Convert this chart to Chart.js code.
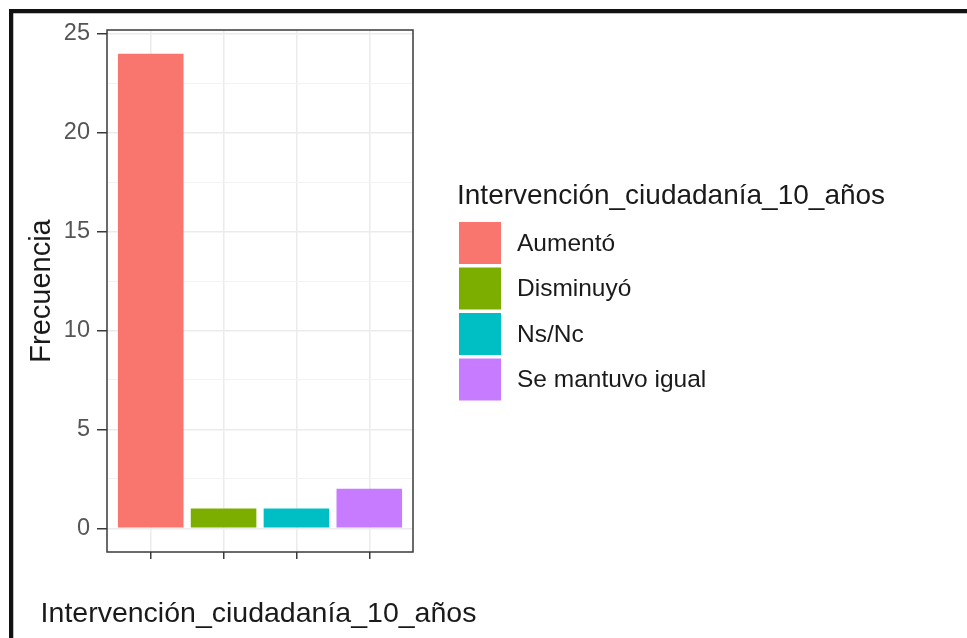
<!DOCTYPE html>
<html>
<head>
<meta charset="utf-8">
<script src="https://cdn.jsdelivr.net/npm/chart.js@4/dist/chart.umd.min.js"></script>
<style>
  html, body { margin: 0; padding: 0; background: #ffffff; }
  #wrap { position: relative; width: 967px; height: 638px; }
</style>
</head>
<body>
<div id="wrap"><canvas id="c" width="967" height="638"></canvas></div>
<script>
// Answer categories and their counts
const categories = ['Aumentó', 'Disminuyó', 'Ns/Nc', 'Se mantuvo igual'];
const frequencies = [24, 1, 1, 2];
const barColors = ['#F8766D', '#7CAE00', '#00BFC4', '#C77CFF'];
const yTickValues = [0, 5, 10, 15, 20, 25];
const variableName = 'Intervención_ciudadanía_10_años';
const yTitle = 'Frecuencia';

const FONT = '"Liberation Sans", Arial, sans-serif';

// Black frame around the figure (top and left edges)
const framePlugin = {
  id: 'frame',
  beforeDraw(chart) {
    const ctx = chart.ctx;
    ctx.save();
    ctx.fillStyle = '#ffffff';
    ctx.fillRect(0, 0, chart.width, chart.height);
    ctx.restore();
  },
  afterDraw(chart) {
    const ctx = chart.ctx;
    ctx.save();
    ctx.fillStyle = '#111111';
    ctx.fillRect(9, 9, chart.width - 9, 4);
    ctx.fillRect(9, 9, 4, chart.height - 9);
    ctx.fillStyle = 'rgba(0,0,0,0.25)';
    ctx.fillRect(13, 13, chart.width - 13, 1);
    ctx.fillRect(13, 13, 1, chart.height - 13);
    ctx.restore();
  }
};

// Panel border drawn over the bars, plus the x-axis title (wider than the panel)
const panelBorderPlugin = {
  id: 'panelBorder',
  afterDatasetsDraw(chart) {
    const { ctx, chartArea: a } = chart;
    ctx.save();
    ctx.strokeStyle = '#3a3a3a';
    ctx.lineWidth = 1.5;
    ctx.strokeRect(a.left, a.top, a.right - a.left, a.bottom - a.top);
    ctx.fillStyle = '#1a1a1a';
    ctx.font = '28.5px ' + FONT;
    ctx.textAlign = 'center';
    ctx.textBaseline = 'alphabetic';
    ctx.fillText(variableName, (a.left + a.right) / 2 - 1.5, 622);
    ctx.restore();
  }
};

// Fill legend on the right: title, colour keys and labels
const fillLegendPlugin = {
  id: 'fillLegend',
  afterDraw(chart) {
    const ctx = chart.ctx;
    const x0 = 458;
    ctx.save();
    ctx.fillStyle = '#1a1a1a';
    ctx.font = '28px ' + FONT;
    ctx.textBaseline = 'alphabetic';
    ctx.textAlign = 'left';
    ctx.fillText(variableName, x0 - 1, 204);
    const keySize = 42;
    const step = 45.5;
    const top0 = 222;
    ctx.font = '24.5px ' + FONT;
    ctx.textBaseline = 'middle';
    categories.forEach((name, i) => {
      const y = top0 + i * step;
      ctx.fillStyle = barColors[i];
      ctx.fillRect(x0 + 1, y, keySize, keySize);
      ctx.fillStyle = '#1a1a1a';
      ctx.fillText(name, 517, y + keySize / 2 + 1);
    });
    ctx.restore();
  }
};

const isMajor = v => yTickValues.includes(v);

new Chart(document.getElementById('c'), {
  type: 'bar',
  data: {
    datasets: [{
      label: variableName,
      data: frequencies.map((v, i) => ({ x: i + 1, y: v })),
      backgroundColor: barColors,
      borderWidth: 0,
      barPercentage: 0.9,
      categoryPercentage: 1.0
    }]
  },
  options: {
    responsive: false,
    animation: false,
    devicePixelRatio: 1,
    layout: { padding: { top: 30, right: 554, left: 0, bottom: 0 } },
    plugins: {
      legend: { display: false },
      tooltip: { enabled: false }
    },
    scales: {
      x: {
        type: 'linear',
        min: 0.4,
        max: 4.6,
        offset: false,
        afterBuildTicks(scale) {
          scale.ticks = categories.map((_, i) => ({ value: i + 1 }));
        },
        afterFit(scale) { scale.height = 86; },
        ticks: { callback: () => '', autoSkip: false, padding: 0 },
        grid: {
          offset: false,
          color: '#ebebeb',
          lineWidth: 1.5,
          tickColor: '#3a3a3a',
          tickWidth: 1.5,
          tickLength: 7,
          drawTicks: true
        },
        border: { display: false },
        title: { display: false }
      },
      y: {
        type: 'linear',
        min: -1.2,
        max: 25.2,
        afterBuildTicks(scale) {
          const t = [];
          for (let v = 0; v <= 25; v += 2.5) t.push({ value: v });
          scale.ticks = t;
        },
        afterFit(scale) { scale.width = 107; },
        ticks: {
          autoSkip: false,
          padding: 7,
          color: '#555555',
          font: { family: FONT, size: 23.5 },
          callback: v => (isMajor(v) ? String(v) : '')
        },
        grid: {
          color: ctx => (ctx.tick && isMajor(ctx.tick.value) ? '#ebebeb' : '#f3f3f3'),
          lineWidth: ctx => (ctx.tick && isMajor(ctx.tick.value) ? 1.5 : 1),
          tickColor: ctx => (ctx.tick && isMajor(ctx.tick.value) ? '#3a3a3a' : 'rgba(0,0,0,0)'),
          tickWidth: 1.5,
          tickLength: 10
        },
        border: { display: false },
        title: {
          display: true,
          text: yTitle,
          color: '#1a1a1a',
          font: { family: FONT, size: 29 },
          padding: { top: 25, bottom: 0 }
        }
      }
    }
  },
  plugins: [framePlugin, panelBorderPlugin, fillLegendPlugin]
});
</script>
</body>
</html>
